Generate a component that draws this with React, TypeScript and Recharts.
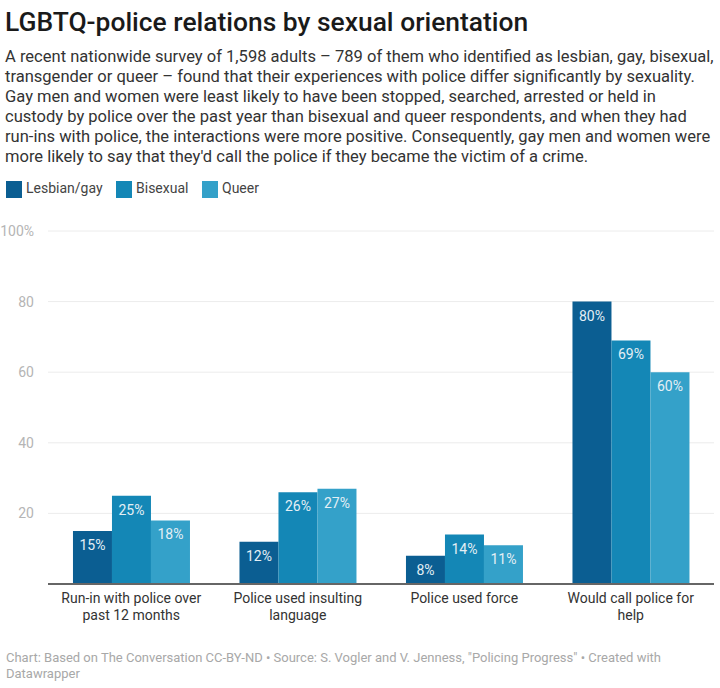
import { BarChart, Bar, XAxis, YAxis, CartesianGrid, LabelList, ReferenceLine } from "recharts";

const categories = [
  "Run-in with police over|past 12 months",
  "Police used insulting|language",
  "Police used force",
  "Would call police for|help",
];
const lesbianGay = [15, 12, 8, 80];
const bisexual = [25, 26, 14, 69];
const queer = [18, 27, 11, 60];
const yTicks = [0, 20, 40, 60, 80, 100];

const series = [
  { key: "lesbianGay", name: "Lesbian/gay", color: "#0b5e92", values: lesbianGay, swatch: 6 },
  { key: "bisexual", name: "Bisexual", color: "#1487b6", values: bisexual, swatch: 116 },
  { key: "queer", name: "Queer", color: "#34a1c9", values: queer, swatch: 202 },
];

const data = categories.map((c, i) => ({
  category: c,
  lesbianGay: lesbianGay[i],
  bisexual: bisexual[i],
  queer: queer[i],
}));

const intro = [
  "A recent nationwide survey of 1,598 adults – 789 of them who identified as lesbian, gay, bisexual,",
  "transgender or queer – found that their experiences with police differ significantly by sexuality.",
  "Gay men and women were least likely to have been stopped, searched, arrested or held in",
  "custody by police over the past year than bisexual and queer respondents, and when they had",
  "run-ins with police, the interactions were more positive. Consequently, gay men and women were",
  "more likely to say that they'd call the police if they became the victim of a crime.",
];
const footer = [
  "Chart: Based on The Conversation CC-BY-ND • Source: S. Vogler and V. Jenness, \"Policing Progress\" • Created with",
  "Datawrapper",
];

const font = "Roboto, sans-serif";

function CategoryTick({ x, y, payload }: any) {
  const lines = String(payload.value).split("|");
  return (
    <text x={x} y={y} textAnchor="middle" fontFamily={font} fontSize={14} fill="#333">
      {lines.map((l, i) => (
        <tspan key={l} x={x} dy={i === 0 ? 11 : 17}>
          {l}
        </tspan>
      ))}
    </text>
  );
}

const line = (top: number, left = 5): React.CSSProperties => ({
  position: "absolute",
  top,
  left,
  whiteSpace: "nowrap",
});

export default function App() {
  return (
    <div style={{ position: "absolute", top: 0, left: 0, width: 720, height: 688, background: "#fff", fontFamily: font, overflow: "hidden" }}>
      <BarChart
        width={720}
        height={688}
        data={data}
        barCategoryGap="15%"
        barGap={0}
        margin={{ top: 231, right: 6, bottom: 0, left: 0 }}
      >
        <CartesianGrid horizontal vertical={false} stroke="#ececec" />
        <XAxis dataKey="category" height={104} axisLine={false} tickLine={false} interval={0} tick={<CategoryTick />} />
        <YAxis
          width={48}
          domain={[0, 100]}
          ticks={yTicks}
          axisLine={false}
          tickLine={false}
          tickMargin={8}
          tick={{ fontFamily: font, fontSize: 14, fill: "#b5b5b5" }}
          tickFormatter={(v: number) => (v === 0 ? "" : v === 100 ? "100%" : String(v))}
        />
        {series.map((s) => (
          <Bar key={s.key} dataKey={s.key} name={s.name} fill={s.color} isAnimationActive={false}>
            <LabelList
              dataKey={s.key}
              position="insideTop"
              offset={9}
              formatter={(v: number) => `${v}%`}
              style={{ fontFamily: font, fontSize: 14, fill: "#e4eff5" }}
            />
          </Bar>
        ))}
        <ReferenceLine y={0} stroke="#666" strokeWidth={2} />
      </BarChart>

      <div style={{ ...line(5), fontSize: 26.4, fontWeight: 500, color: "#1a1a1a", lineHeight: "34px" }}>
        LGBTQ-police relations by sexual orientation
      </div>
      {intro.map((t, i) => (
        <div key={i} style={{ ...line(47 + i * 20), fontSize: 16.55, color: "#333", lineHeight: "20px" }}>
          {t}
        </div>
      ))}
      {series.map((s) => (
        <div key={s.key}>
          <div style={{ position: "absolute", top: 181, left: s.swatch, width: 16, height: 17, background: s.color }} />
          <div style={{ ...line(180, s.swatch + 20), fontSize: 14, color: "#444", lineHeight: "17px" }}>{s.name}</div>
        </div>
      ))}
      {footer.map((t, i) => (
        <div key={i} style={{ ...line(650 + i * 16, 6), fontSize: 13, color: "#a8a8a8", lineHeight: "16px" }}>
          {t}
        </div>
      ))}
    </div>
  );
}
